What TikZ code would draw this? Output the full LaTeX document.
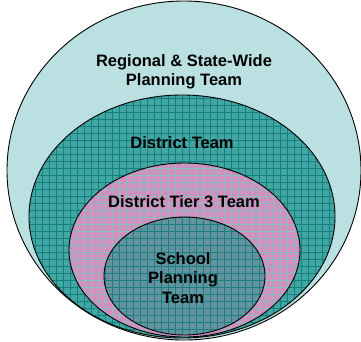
\documentclass[tikz,border=0pt]{standalone}
\usepackage{fontspec}
\setmainfont{Liberation Sans}
\definecolor{regionfill}{RGB}{186,224,226}
\definecolor{districtfill}{RGB}{66,166,162}
\definecolor{tierfill}{RGB}{210,142,190}
\definecolor{schoolfill}{RGB}{100,146,158}
\definecolor{gridline}{RGB}{20,128,128}
\tikzset{
  team/.style={font=\fontsize{16.5}{19.5}\selectfont\bfseries, align=center, text=black},
  ring/.style={draw=black, line width=0.9pt},
  mesh/.style={draw=gridline, line width=0.35pt, step=7pt}
}
\begin{document}
\begin{tikzpicture}[x=1pt,y=-1pt]
\useasboundingbox (0,0) rectangle (361,341);

% outer region
\path[ring, fill=regionfill] (184,170.5) ellipse (177 and 169.5);

% district
\fill[districtfill] (182,216.5) ellipse (153 and 121.5);
\begin{scope}
\clip (182,216.5) ellipse (153 and 121.5);
\draw[mesh] (0,0) grid (361,341);
\end{scope}
\draw[ring] (182,216.5) ellipse (153 and 121.5);

% tier 3
\fill[tierfill] (184.5,250) ellipse (115.5 and 87);
\begin{scope}
\clip (184.5,250) ellipse (115.5 and 87);
\draw[mesh, draw=gridline!50] (0,0) grid (361,341);
\end{scope}
\draw[ring] (184.5,250) ellipse (115.5 and 87);

% school
\fill[schoolfill] (184.5,276) ellipse (80.5 and 59);
\begin{scope}
\clip (184.5,276) ellipse (80.5 and 59);
\draw[mesh] (0,0) grid (361,341);
\end{scope}
\draw[ring] (184.5,276) ellipse (80.5 and 59);

\node[team] (region) at (184,72) {Regional \& State-Wide\\Planning Team};
\node[team] (district) at (182,143) {District Team};
\node[team] (tier) at (184,202) {District Tier 3 Team};
\node[team] (school) at (183,278) {School\\Planning\\Team};
\end{tikzpicture}
\end{document}
